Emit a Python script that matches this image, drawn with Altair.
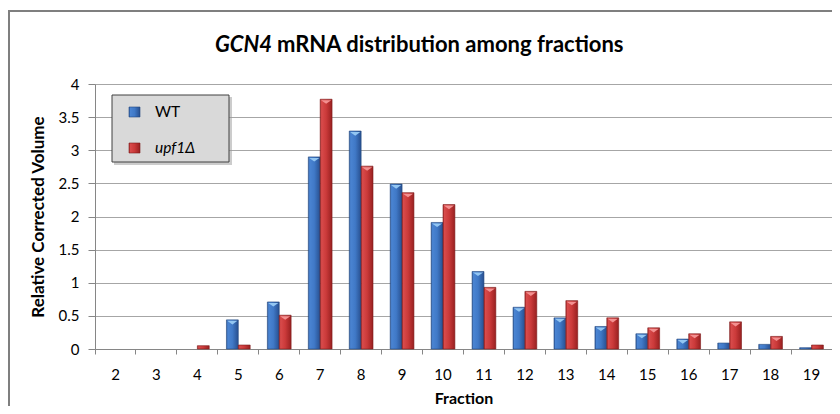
import altair as alt
import pandas as pd

fractions = [str(i) for i in range(2, 20)]
series = ["WT", "upf1Δ"]
wt = [0, 0, 0, 0.44, 0.71, 2.90, 3.29, 2.49, 1.91, 1.17, 0.63, 0.47, 0.34, 0.23, 0.15, 0.09, 0.07, 0.02]
upf1 = [0, 0, 0.05, 0.06, 0.51, 3.77, 2.76, 2.36, 2.18, 0.93, 0.87, 0.73, 0.47, 0.32, 0.23, 0.41, 0.19, 0.06]
y_ticks = [0, 0.5, 1, 1.5, 2, 2.5, 3, 3.5, 4]

rows = []
for f, a, b in zip(fractions, wt, upf1):
    rows.append({"Fraction": f, "series": series[0], "value": a})
    rows.append({"Fraction": f, "series": series[1], "value": b})
df = pd.DataFrame(rows)

FONT = "Lato"
W, H = 737, 265

def grad(stops):
    return alt.Gradient(gradient="linear", x1=0, y1=0, x2=1, y2=0,
                        stops=[alt.GradientStop(offset=o, color=c) for o, c in stops])

blue = grad([(0, "#2d5a9c"), (0.12, "#4a84d2"), (0.5, "#4079c7"), (1, "#274f8f")])
red = grad([(0, "#a52727"), (0.12, "#d84b4b"), (0.5, "#cb3a3a"), (1, "#982020")])
fills = {series[0]: blue, series[1]: red}
tri_colors = {series[0]: "#93c6f2", series[1]: "#f39090"}
strokes = {series[0]: "#23487f", series[1]: "#7e1b1b"}

x_enc = alt.X("Fraction:N", sort=fractions,
              scale=alt.Scale(domain=fractions, paddingInner=0, paddingOuter=0),
              axis=alt.Axis(title="Fraction", labelAngle=0, bandPosition=0,
                            tickSize=5, tickColor="#868686", domainColor="#868686",
                            labelPadding=13, labelFont=FONT, labelFontSize=15,
                            labelColor="#000000", titleFont=FONT, titleFontSize=16,
                            titleFontWeight="bold", titleColor="#000000", titlePadding=8,
                            grid=False))
xo_enc = alt.XOffset("series:N", scale=alt.Scale(domain=series, paddingInner=0, paddingOuter=0.725))
y_enc = alt.Y("value:Q", scale=alt.Scale(domain=[0, 4], nice=False),
              axis=alt.Axis(title="Relative Corrected Volume", values=y_ticks, format="~g",
                            tickSize=7, tickColor="#868686", domainColor="#868686",
                            gridColor="#a6a6a6", labelPadding=9, labelFont=FONT,
                            labelFontSize=15, labelColor="#000000", titleFont=FONT,
                            titleFontSize=17, titleFontWeight="bold", titleColor="#000000",
                            titlePadding=11, labelOverlap=False))

layers = []
for s in series:
    layers.append(
        alt.Chart(df).transform_filter((alt.datum.series == s) & (alt.datum.value > 0))
        .mark_bar(color=fills[s], stroke=strokes[s], strokeWidth=0.6)
        .encode(x=x_enc, xOffset=xo_enc, y=y_enc)
    )
for s in series:
    layers.append(
        alt.Chart(df).transform_filter((alt.datum.series == s) & (alt.datum.value > 0.1))
        .mark_point(shape="M-0.85,0L0.85,0L0,0.6Z", filled=True, opacity=1,
                    color=tri_colors[s], size=144, yOffset=1)
        .encode(x=x_enc, xOffset=xo_enc, y=y_enc)
    )

one = alt.Data(values=[{}])

# outer chart border (left and top edges; the rest lies outside the picture)
border_l = alt.Chart(one).mark_rule(stroke="#7f7f7f", strokeWidth=2).encode(
    x=alt.value(-86), y=alt.value(-74), y2=alt.value(H + 57))
border_t = alt.Chart(one).mark_rule(stroke="#7f7f7f", strokeWidth=2).encode(
    x=alt.value(-87), x2=alt.value(W), y=alt.value(-73))

# legend box
shadow = alt.Chart(one).mark_rect(fill="#9a9a9a", opacity=0.5).encode(
    x=alt.value(19), x2=alt.value(137), y=alt.value(13), y2=alt.value(81))
box = alt.Chart(one).mark_rect(fill="#d9d9d9", stroke="#404040", strokeWidth=1).encode(
    x=alt.value(17), x2=alt.value(134), y=alt.value(11), y2=alt.value(78))
leg = []
for s, yc, style in zip(series, [28, 64], ["normal", "italic"]):
    leg.append(alt.Chart(one).mark_rect(fill=fills[s], stroke=strokes[s], strokeWidth=0.6).encode(
        x=alt.value(34), x2=alt.value(45), y=alt.value(yc - 5), y2=alt.value(yc + 5)))
    leg.append(alt.Chart(one).mark_text(text=s, align="left", baseline="middle", font=FONT,
                                        fontSize=15.5, fontStyle=style, color="#000000").encode(
        x=alt.value(60), y=alt.value(yc)))

# title with italic gene name
t1 = alt.Chart(one).mark_text(text="GCN4", align="right", baseline="alphabetic", font=FONT,
                              fontSize=22, fontWeight="bold", fontStyle="italic",
                              color="#000000").encode(x=alt.value(177), y=alt.value(-32))
t2 = alt.Chart(one).mark_text(text="mRNA distribution among fractions", align="left",
                              baseline="alphabetic", font=FONT, fontSize=22,
                              fontWeight="bold", color="#000000").encode(
    x=alt.value(182), y=alt.value(-32))

chart = alt.layer(border_l, border_t, *layers, shadow, box, *leg, t1, t2).properties(
    width=W, height=H,
    autosize=alt.AutoSizeParams(type="none"),
    padding={"left": 87, "top": 76, "right": 0, "bottom": 57},
).configure_view(stroke=None).configure(background="#ffffff")

chart.save("out.html", embed_options={"renderer": "svg", "actions": False})
